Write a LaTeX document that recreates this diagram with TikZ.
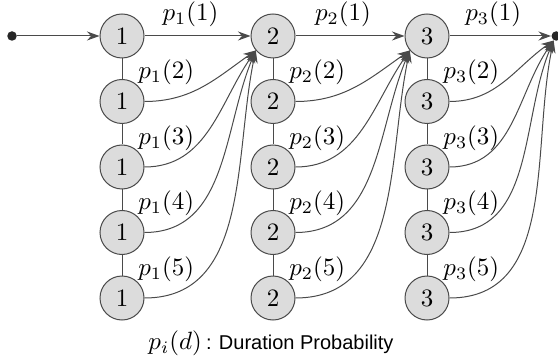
\documentclass[tikz,border=0pt]{standalone}
\usepackage{fontspec}
\newfontfamily\capfont{Liberation Sans}
\usepackage{tikz}
\usetikzlibrary{arrows.meta,positioning}
\definecolor{sink}{HTML}{4A4A4A}
\definecolor{sfill}{HTML}{DCDCDC}

\begin{document}
\begin{tikzpicture}[
  x=0.4pt,y=-0.4pt,
  state/.style={circle,draw=sink,fill=sfill,thin,minimum size=17.6pt,inner sep=0pt},
  dot/.style={circle,fill=black!85,minimum size=3.8pt,inner sep=0pt},
  arr/.style={-{Stealth[length=5pt,width=3.6pt]},sink,thin},
  link/.style={sink,thin},
  plab/.style={anchor=south west,inner sep=0pt,text=black}]
\useasboundingbox (0,0) rectangle (558,358);
% start point and first column
\node[dot] (s) at (12,36) {};
\node[state] (a1) at (122,36) {1};
\node[state,below=8.2pt of a1] (a2) {1};
\node[state,below=8.2pt of a2] (a3) {1};
\node[state,below=8.2pt of a3] (a4) {1};
\node[state,below=8.2pt of a4] (a5) {1};
% second column
\node[state,right=42.4pt of a1] (b1) {2};
\node[state,below=8.2pt of b1] (b2) {2};
\node[state,below=8.2pt of b2] (b3) {2};
\node[state,below=8.2pt of b3] (b4) {2};
\node[state,below=8.2pt of b4] (b5) {2};
% third column and end point
\node[state,right=43.6pt of b1] (c1) {3};
\node[state,below=8.2pt of c1] (c2) {3};
\node[state,below=8.2pt of c2] (c3) {3};
\node[state,below=8.2pt of c3] (c4) {3};
\node[state,below=8.2pt of c4] (c5) {3};
\node[dot,right=40.6pt of c1] (e) {};
% duration labels
\node[plab] (pa2) at (a2.north east) {$p_1(2)$};
\node[plab] (pa3) at (a3.north east) {$p_1(3)$};
\node[plab] (pa4) at (a4.north east) {$p_1(4)$};
\node[plab] (pa5) at (a5.north east) {$p_1(5)$};
\node[plab] (pb2) at (b2.north east) {$p_2(2)$};
\node[plab] (pb3) at (b3.north east) {$p_2(3)$};
\node[plab] (pb4) at (b4.north east) {$p_2(4)$};
\node[plab] (pb5) at (b5.north east) {$p_2(5)$};
\node[plab] (pc2) at (c2.north east) {$p_3(2)$};
\node[plab] (pc3) at (c3.north east) {$p_3(3)$};
\node[plab] (pc4) at (c4.north east) {$p_3(4)$};
\node[plab] (pc5) at (c5.north east) {$p_3(5)$};
\node (cap) at (271,343) {$p_i(d)$\,{\capfont\footnotesize: Duration Probability}};
% connectors
\draw[link] (a1)--(a2)--(a3)--(a4)--(a5);
\draw[link] (b1)--(b2)--(b3)--(b4)--(b5);
\draw[link] (c1)--(c2)--(c3)--(c4)--(c5);
\draw[arr] (s)--(a1);
\draw[arr] (a1)-- node[above,text=black,xshift=-2.8pt] (pa1) {$p_1(1)$} (b1);
\draw[arr] (b1)-- node[above,text=black,xshift=-2.8pt] (pb1) {$p_2(1)$} (c1);
\draw[arr] (c1)-- node[above,text=black,xshift=-2.8pt] (pc1) {$p_3(1)$} (e);
\draw[arr] (a2.east) to[out=0,in=215] (b1.220);
\draw[arr] (a3.east) to[out=0,in=235] (b1.220);
\draw[arr] (a4.east) to[out=0,in=247] (b1.220);
\draw[arr] (a5.east) to[out=0,in=258] (b1.220);
\draw[arr] (b2.east) to[out=0,in=215] (c1.220);
\draw[arr] (b3.east) to[out=0,in=235] (c1.220);
\draw[arr] (b4.east) to[out=0,in=247] (c1.220);
\draw[arr] (b5.east) to[out=0,in=258] (c1.220);
\draw[arr] (c2.east) to[out=0,in=215] (e.240);
\draw[arr] (c3.east) to[out=0,in=235] (e.240);
\draw[arr] (c4.east) to[out=0,in=247] (e.240);
\draw[arr] (c5.east) to[out=0,in=258] (e.240);
\end{tikzpicture}
\end{document}
